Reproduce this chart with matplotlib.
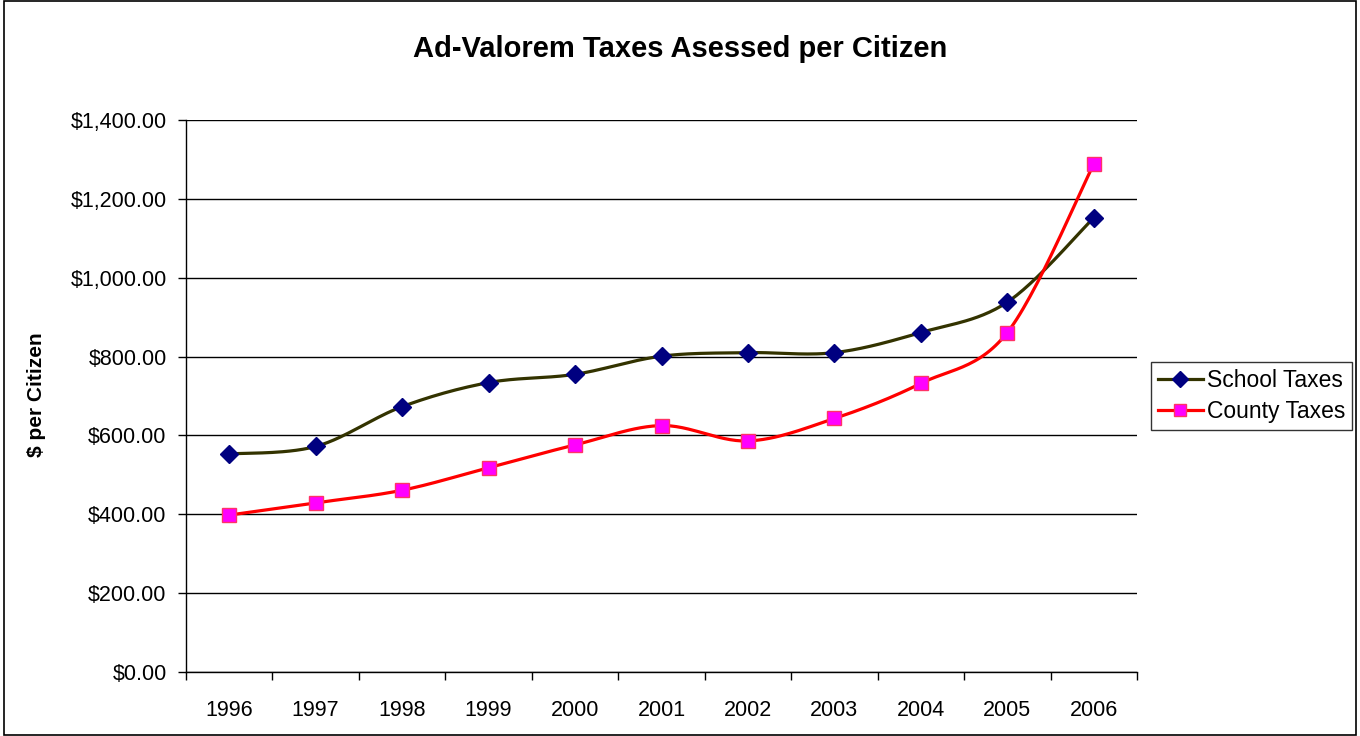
import matplotlib
matplotlib.use("Agg")
import matplotlib.pyplot as plt
import numpy as np
from matplotlib.patches import Rectangle
from matplotlib.ticker import FuncFormatter, FixedLocator, NullFormatter

plt.rcParams['font.family'] = ['Liberation Sans', 'DejaVu Sans']

years = ["1996", "1997", "1998", "1999", "2000", "2001", "2002", "2003", "2004", "2005", "2006"]
school_taxes = [553, 572, 673, 734, 755, 801, 810, 810, 861, 938, 1152]
county_taxes = [398, 429, 461, 518, 576, 625, 586, 643, 732, 861, 1288]

fig = plt.figure(figsize=(13.6, 7.36), dpi=100)
fig.patch.set_facecolor("white")
fig.add_artist(Rectangle((4/1360, 1/736), 1352/1360, 734/736, transform=fig.transFigure,
                         fill=False, edgecolor="black", linewidth=1.2))

ax = fig.add_axes([186/1360, 64/736, 951/1360, 552/736])
n = len(years)
ax.set_xlim(-0.5, n - 0.5)
ax.set_ylim(0, 1400)

def smooth(xs, ys, steps=30):
    pts = ax.transData.transform(np.column_stack([xs, ys]))
    P = np.vstack([pts[0], pts, pts[-1]])
    out = []
    for i in range(1, len(P) - 2):
        p0, p1, p2, p3 = P[i - 1], P[i], P[i + 1], P[i + 2]
        c1 = p1 + (p2 - p0) / 6.0
        c2 = p2 - (p3 - p1) / 6.0
        t = np.linspace(0, 1, steps)[:, None]
        seg = (1 - t) ** 3 * p1 + 3 * (1 - t) ** 2 * t * c1 + 3 * (1 - t) * t ** 2 * c2 + t ** 3 * p2
        out.append(seg if i == 1 else seg[1:])
    out = np.vstack(out)
    d = ax.transData.inverted().transform(out)
    return d[:, 0], d[:, 1]

x = np.arange(n)
for vals, lc, mk, mfc, mec, ms, label in [
    (school_taxes, "#333300", "D", "#000080", "#000080", 9, "School Taxes"),
    (county_taxes, "#FF0000", "s", "#FF00FF", "#FF3366", 10, "County Taxes"),
]:
    sx, sy = smooth(x, vals)
    ax.plot(sx, sy, color=lc, linewidth=2.3, zorder=3)
    ax.plot(x, vals, linestyle="none", marker=mk, markersize=ms, markerfacecolor=mfc,
            markeredgecolor=mec, markeredgewidth=1, zorder=4)
    ax.plot([], [], color=lc, linewidth=2.3, marker=mk, markersize=ms - 1,
            markerfacecolor=mfc, markeredgecolor=mec, label=label)

ax.set_yticks(np.arange(0, 1401, 200))
ax.yaxis.set_major_formatter(FuncFormatter(lambda v, p: "${:,.2f}".format(v)))
ax.grid(axis="y", color="black", linewidth=1)
ax.set_axisbelow(True)

ax.xaxis.set_major_locator(FixedLocator(np.arange(-0.5, n, 1.0)))
ax.xaxis.set_major_formatter(NullFormatter())
ax.xaxis.set_minor_locator(FixedLocator(x))
ax.set_xticklabels(years, minor=True)
ax.tick_params(axis="x", which="minor", length=0, pad=20, labelsize=15.5)
ax.tick_params(axis="x", which="major", length=6, width=1, color="black", direction="out")
ax.tick_params(axis="y", length=6, width=1, color="black", direction="out", labelsize=15.5, pad=8)

for s in ["top", "right"]:
    ax.spines[s].set_visible(False)
for s in ["left", "bottom"]:
    ax.spines[s].set_color("black")
    ax.spines[s].set_linewidth(1)

fig.text(680/1360, 1 - 49/736, "Ad-Valorem Taxes Asessed per Citizen", ha="center", va="center",
         fontsize=21, fontweight="bold")
fig.text(37/1360, 1 - 395/736, "$ per Citizen", rotation=90, ha="center", va="center",
         fontsize=15, fontweight="bold")

leg = fig.legend(loc="center left", bbox_to_anchor=(1151/1360, 1 - 396/736), frameon=True,
                 fancybox=False, edgecolor="black", fontsize=16.5, handlelength=1.95,
                 handletextpad=0.2, borderpad=0.3, labelspacing=0.35, borderaxespad=0)
leg.get_frame().set_linewidth(1)

fig.savefig("out.png", dpi=100, facecolor="white")
